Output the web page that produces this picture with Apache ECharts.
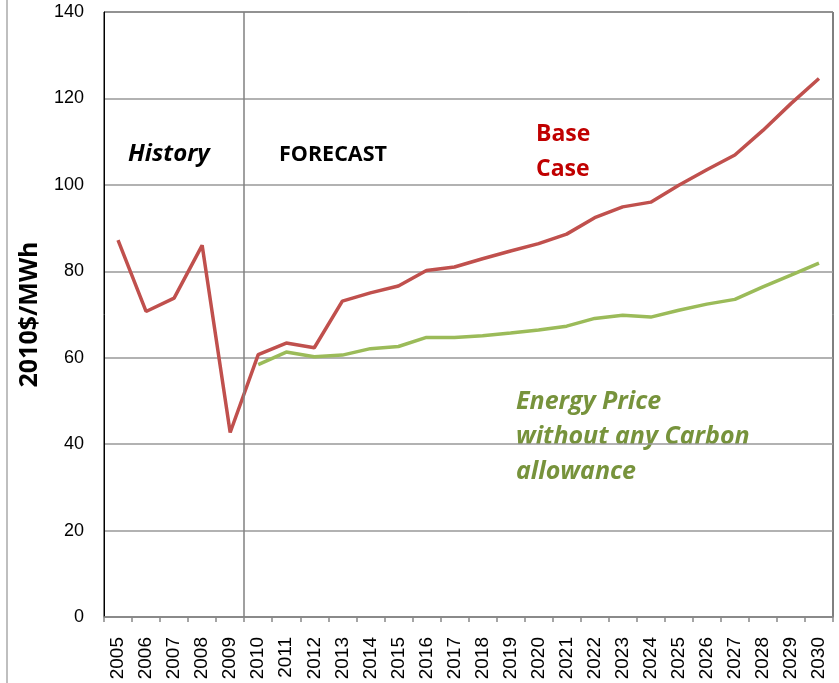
<!DOCTYPE html>
<html>
<head>
<meta charset="utf-8">
<script src="https://cdn.jsdelivr.net/npm/echarts@6/dist/echarts.min.js"></script>
<style>
  html, body { margin: 0; padding: 0; background: #fff; }
  #chart { width: 839px; height: 683px; }
</style>
</head>
<body>
<div id="chart"></div>
<script>
var years = ['2005', '2006', '2007', '2008', '2009', '2010', '2011', '2012', '2013',
  '2014', '2015', '2016', '2017', '2018', '2019', '2020', '2021', '2022', '2023',
  '2024', '2025', '2026', '2027', '2028', '2029', '2030']
var baseCase = [87.2, 70.7, 73.8, 86.0, 42.7, 60.7, 63.4, 62.3, 73.1, 75.0, 76.6, 80.2,
  81.0, 82.9, 84.7, 86.4, 88.6, 92.4, 94.9, 96.0, 99.9, 103.5, 106.9, 112.6, 118.8, 124.6]
var noCarbon = ['-', '-', '-', '-', '-', 58.4, 61.3, 60.2, 60.6, 62.1, 62.6, 64.7,
  64.7, 65.1, 65.7, 66.4, 67.3, 69.1, 69.8, 69.4, 71.0, 72.4, 73.5, 76.4, 79.1, 81.9]
var yTicks = [0, 20, 40, 60, 80, 100, 120, 140]
// history / forecast divider sits on the boundary before this category
var forecastStart = 5

var chart = echarts.init(document.getElementById('chart'))

var option = {
  backgroundColor: '#fff',
  animation: false,
  grid: {
    left: 104,
    right: 6,
    top: 12,
    bottom: 66,
    outerBoundsMode: 'none',
    show: true,
    borderColor: '#000',
    borderWidth: 1
  },
  xAxis: [
    {
      type: 'category',
      data: years,
      boundaryGap: true,
      axisLine: { show: true, lineStyle: { color: '#888', width: 1.5 } },
      axisTick: { show: true, interval: 0, length: 5, lineStyle: { color: '#888', width: 1.5 } },
      axisLabel: {
        interval: 0,
        rotate: 90,
        margin: 20,
        fontSize: 19,
        color: '#000',
        fontFamily: 'Liberation Sans'
      },
      splitLine: { show: false }
    },
    {
      // hidden helper axis: category boundaries as plain numbers
      type: 'value',
      min: 0,
      max: years.length,
      show: false
    }
  ],
  yAxis: {
    type: 'value',
    min: yTicks[0],
    max: yTicks[yTicks.length - 1],
    interval: 20,
    name: '2010$/MWh',
    nameLocation: 'middle',
    nameRotate: 90,
    nameGap: 62,
    nameTextStyle: { fontSize: 25, fontWeight: 'bold', color: '#000', fontFamily: 'Open Sans' },
    axisLine: { show: true, lineStyle: { color: '#000', width: 1 } },
    axisTick: { show: false },
    axisLabel: { fontSize: 18, color: '#000', margin: 20, fontFamily: 'Liberation Sans' },
    splitLine: { show: true, lineStyle: { color: '#999', width: 1.5 } }
  },
  series: [
    {
      name: 'Base Case',
      type: 'line',
      data: baseCase,
      symbol: 'none',
      lineStyle: { color: '#C0504D', width: 3.5 },
      z: 3
    },
    {
      name: 'Energy Price without any Carbon allowance',
      type: 'line',
      data: noCarbon,
      symbol: 'none',
      lineStyle: { color: '#9BBB59', width: 3.5 },
      z: 2
    },
    {
      name: 'divider',
      type: 'line',
      xAxisIndex: 1,
      data: [],
      z: 1,
      markLine: {
        silent: true,
        symbol: 'none',
        label: { show: false },
        lineStyle: { color: '#808080', width: 1.5, type: 'solid' },
        data: [{ xAxis: forecastStart }]
      }
    }
  ],
  graphic: [
    {
      type: 'line',
      shape: { x1: 7, y1: 0, x2: 7, y2: 683 },
      style: { stroke: '#aaa', lineWidth: 1.5 }
    },
    {
      type: 'text', left: 128, top: 142,
      style: { text: 'History', fontSize: 24, fontWeight: 'bold', fontStyle: 'italic', fill: '#000', fontFamily: 'Open Sans' }
    },
    {
      type: 'text', left: 279, top: 144,
      style: { text: 'FORECAST', fontSize: 21.5, fontWeight: 'bold', fill: '#000', fontFamily: 'Open Sans' }
    },
    {
      type: 'text', left: 536, top: 117,
      style: { text: 'Base\nCase', fontSize: 23, lineHeight: 35, fontWeight: 'bold', fill: '#C00000', fontFamily: 'Open Sans' }
    },
    {
      type: 'text', left: 516, top: 384,
      style: { text: 'Energy Price\nwithout any Carbon\nallowance', fontSize: 25, lineHeight: 35, fontWeight: 'bold', fontStyle: 'italic', fill: '#77933C', fontFamily: 'Open Sans' }
    }
  ]
}

chart.setOption(option)
</script>
</body>
</html>
